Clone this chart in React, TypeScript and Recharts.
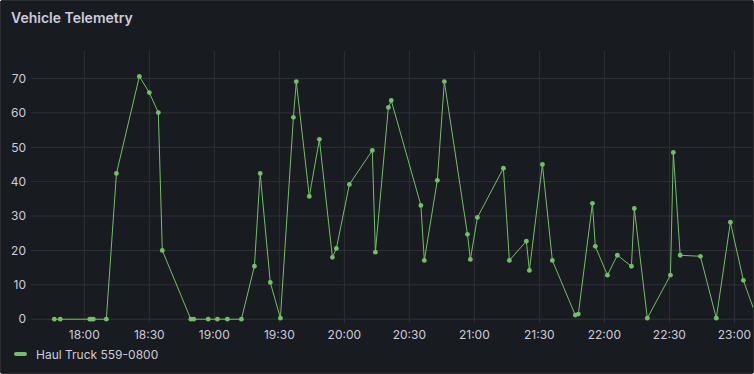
import React from 'react';
import { LineChart, Line, XAxis, YAxis, CartesianGrid, Legend } from 'recharts';

// clock times of each reading and the speed value at that time
const times = [
  '17:46:10', '17:48:55', '18:02:30', '18:03:10', '18:04:10', '18:10:10', '18:14:50', '18:25:25',
  '18:30:00', '18:34:10', '18:36:00', '18:49:10', '18:50:30', '18:57:10', '19:01:25', '19:06:00',
  '19:12:30', '19:18:30', '19:21:10', '19:25:50', '19:30:30', '19:36:30', '19:37:50', '19:43:50',
  '19:48:30', '19:54:30', '19:56:20', '20:02:20', '20:12:55', '20:14:20', '20:20:20', '20:21:40',
  '20:35:20', '20:36:55', '20:42:55', '20:46:10', '20:56:50', '20:58:10', '21:01:25', '21:13:25',
  '21:16:10', '21:24:00', '21:25:25', '21:31:25', '21:36:00', '21:46:35', '21:48:00', '21:54:30',
  '21:55:50', '22:01:25', '22:06:00', '22:12:30', '22:13:50', '22:19:50', '22:30:30', '22:31:50',
  '22:35:00', '22:44:20', '22:51:40', '22:58:10', '23:04:10', '23:10:35',
];

const values = [
  0, 0, 0, 0, 0, 0, 42.4, 70.6,
  65.9, 60.1, 20.0, 0, 0, 0, 0, 0,
  0, 15.4, 42.4, 10.7, 0.3, 58.7, 69.1, 35.7,
  52.3, 18.0, 20.6, 39.2, 49.1, 19.5, 61.6, 63.6,
  33.1, 17.1, 40.4, 69.1, 24.7, 17.4, 29.6, 43.9,
  17.1, 22.7, 14.2, 45.0, 17.1, 1.2, 1.5, 33.7,
  21.2, 12.8, 18.6, 15.4, 32.2, 0.3, 12.8, 48.5,
  18.6, 18.3, 0.3, 28.2, 11.3, 0,
];

const xTicks = ['18:00', '18:30', '19:00', '19:30', '20:00', '20:30', '21:00', '21:30', '22:00', '22:30', '23:00'];
const yTicks = [0, 10, 20, 30, 40, 50, 60, 70];

const seriesName = 'Haul Truck 559-0800';
const GREEN = '#73bf69';
const TEXT = '#ccccdc';
const GRID = '#2e3136';

// minutes relative to 18:00
const toMin = (s: string) => {
  const [h, m, sec] = s.split(':').map(Number);
  return (h - 18) * 60 + m + (sec || 0) / 60;
};
const fmt = (v: number) => {
  const total = Math.round(v) + 18 * 60;
  const h = Math.floor(total / 60);
  const m = total % 60;
  return `${h}:${m.toString().padStart(2, '0')}`;
};

const data = times.map((t, i) => ({ t: toMin(t), v: values[i] }));

const LegendRow = () => (
  <div style={{ height: 24, display: 'flex', alignItems: 'center', paddingLeft: 14, fontFamily: 'Inter, sans-serif', fontSize: 12, color: TEXT }}>
    <span style={{ width: 13, height: 4, borderRadius: 2, background: GREEN, marginRight: 9, display: 'inline-block' }} />
    {seriesName}
  </div>
);

export default function App() {
  return (
    <div
      style={{
        position: 'absolute',
        left: 0,
        top: 0,
        width: 754,
        height: 374,
        background: '#181b1f',
        boxSizing: 'border-box',
        border: '1px solid #2c2e33',
        borderRadius: 2,
        overflow: 'hidden',
      }}
    >
      <div style={{ position: 'absolute', left: 10, top: 8, fontFamily: 'Inter, sans-serif', fontSize: 14, fontWeight: 600, color: TEXT }}>
        Vehicle Telemetry
      </div>
      <div style={{ position: 'absolute', left: -1, top: -1 }}>
        <LineChart width={754} height={374} data={data} margin={{ top: 51, right: 1, left: 0, bottom: 8 }}>
          <CartesianGrid stroke={GRID} strokeWidth={1} syncWithTicks />
          <XAxis
            dataKey="t"
            type="number"
            domain={[-24.6, 308.6]}
            allowDataOverflow
            ticks={xTicks.map(toMin)}
            interval={0}
            tickFormatter={fmt}
            axisLine={false}
            tickLine={false}
            tickSize={6}
            tickMargin={1}
            height={19}
            tick={{ fill: TEXT, fontSize: 12, fontFamily: 'Inter, sans-serif' }}
          />
          <YAxis
            type="number"
            domain={[-1.1, 78]}
            ticks={yTicks}
            interval={0}
            axisLine={false}
            tickLine={false}
            tickSize={5}
            tickMargin={0}
            width={31}
            tick={{ fill: TEXT, fontSize: 12, fontFamily: 'Inter, sans-serif' }}
          />
          <Legend verticalAlign="bottom" align="left" content={() => <LegendRow />} />
          <Line
            dataKey="v"
            name={seriesName}
            type="linear"
            stroke={GREEN}
            strokeWidth={1}
            dot={{ r: 2.4, fill: GREEN, stroke: 'none' }}
            activeDot={false}
            isAnimationActive={false}
          />
        </LineChart>
      </div>
    </div>
  );
}
